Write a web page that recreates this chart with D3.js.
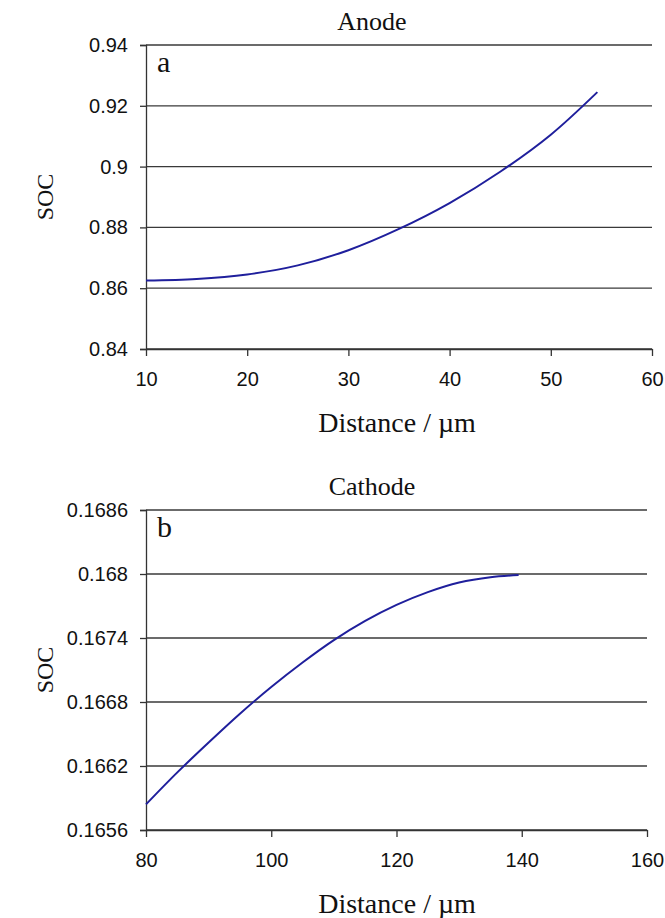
<!DOCTYPE html>
<html>
<head>
<meta charset="utf-8">
<script src="https://cdn.jsdelivr.net/npm/d3@7"></script>
<style>
  body { margin: 0; background: #fff; }
</style>
</head>
<body>
<script>
// Anode panel (a)
var anodeDist = [10, 15, 20, 25, 30, 35, 40, 45, 50, 54.6];
var anodeSOC = [0.8625, 0.8630, 0.8645, 0.8675, 0.8725, 0.8795, 0.8880, 0.8983, 0.9105, 0.9245];
var anodeYTicks = [0.84, 0.86, 0.88, 0.90, 0.92, 0.94];
var anodeXTicks = [10, 20, 30, 40, 50, 60];

// Cathode panel (b)
var cathodeDist = [80, 85, 90, 95, 100, 105, 110, 115, 120, 125, 130, 135, 139.5];
var cathodeSOC = [0.16584, 0.16614, 0.16642, 0.16669, 0.16694, 0.16717, 0.16738, 0.16756, 0.16771, 0.16783, 0.16792, 0.16797, 0.16799];
var cathodeYTicks = [0.1656, 0.1662, 0.1668, 0.1674, 0.1680, 0.1686];
var cathodeXTicks = [80, 100, 120, 140, 160];

var serif = "'Liberation Serif', 'Times New Roman', 'DejaVu Serif', serif";
var sans = "'Liberation Sans', Arial, sans-serif";

var svg = d3.select("body").append("svg")
    .attr("width", 665)
    .attr("height", 918);

function drawPanel(p) {
    var x = d3.scaleLinear().domain(d3.extent(p.xTicks)).range([p.left, p.right]);
    var y = d3.scaleLinear().domain(d3.extent(p.yTicks)).range([p.bottom, p.top]);
    var fmt = function (d) { return String(+d.toFixed(4)); };

    var g = svg.append("g");

    // horizontal grid lines
    g.selectAll(".grid")
        .data(p.yTicks)
        .enter().append("line")
        .attr("x1", p.left)
        .attr("x2", p.right)
        .attr("y1", function (d) { return y(d); })
        .attr("y2", function (d) { return y(d); })
        .attr("stroke", "#3a3a3a")
        .attr("stroke-width", 1.3);

    // y axis
    var yAxis = g.append("g")
        .attr("transform", "translate(" + p.left + ",0)")
        .call(d3.axisLeft(y).tickValues(p.yTicks).tickFormat(fmt).tickSize(6).tickPadding(12));
    yAxis.selectAll("path, line").attr("stroke", "#333").attr("stroke-width", 1.3);

    // x axis
    var xAxis = g.append("g")
        .attr("transform", "translate(0," + p.bottom + ")")
        .call(d3.axisBottom(x).tickValues(p.xTicks).tickSizeInner(7).tickSizeOuter(0).tickPadding(16));
    xAxis.selectAll("path, line").attr("stroke", "#333").attr("stroke-width", 1.3);

    g.selectAll(".tick text")
        .attr("font-family", sans)
        .attr("font-size", 20)
        .attr("fill", "#111");

    // curve
    var pts = p.dist.map(function (d, i) { return [d, p.soc[i]]; });
    g.append("path")
        .datum(pts)
        .attr("fill", "none")
        .attr("stroke", "#1f1f9c")
        .attr("stroke-width", 2)
        .attr("d", d3.line()
            .curve(d3.curveCatmullRom)
            .x(function (d) { return x(d[0]); })
            .y(function (d) { return y(d[1]); }));

    // titles
    g.append("text")
        .attr("x", 372).attr("y", p.top - 15)
        .attr("text-anchor", "middle")
        .attr("font-family", serif)
        .attr("font-size", 26)
        .attr("fill", "#111")
        .text(p.title);

    g.append("text")
        .attr("x", p.left + 11).attr("y", p.top + 27)
        .attr("font-family", serif)
        .attr("font-size", 30)
        .attr("fill", "#111")
        .text(p.letter);

    g.append("text")
        .attr("transform", "translate(53," + ((p.top + p.bottom) / 2) + ") rotate(-90)")
        .attr("text-anchor", "middle")
        .attr("font-family", serif)
        .attr("font-size", 24)
        .attr("fill", "#111")
        .text("SOC");

    g.append("text")
        .attr("x", 397).attr("y", p.bottom + 83)
        .attr("text-anchor", "middle")
        .attr("font-family", serif)
        .attr("font-size", 28)
        .attr("fill", "#111")
        .text("Distance / \u00b5m");
}

drawPanel({
    dist: anodeDist, soc: anodeSOC, yTicks: anodeYTicks, xTicks: anodeXTicks,
    left: 146, right: 652, top: 45, bottom: 349,
    title: "Anode", letter: "a"
});

drawPanel({
    dist: cathodeDist, soc: cathodeSOC, yTicks: cathodeYTicks, xTicks: cathodeXTicks,
    left: 146, right: 647, top: 510, bottom: 830,
    title: "Cathode", letter: "b"
});
</script>
</body>
</html>
